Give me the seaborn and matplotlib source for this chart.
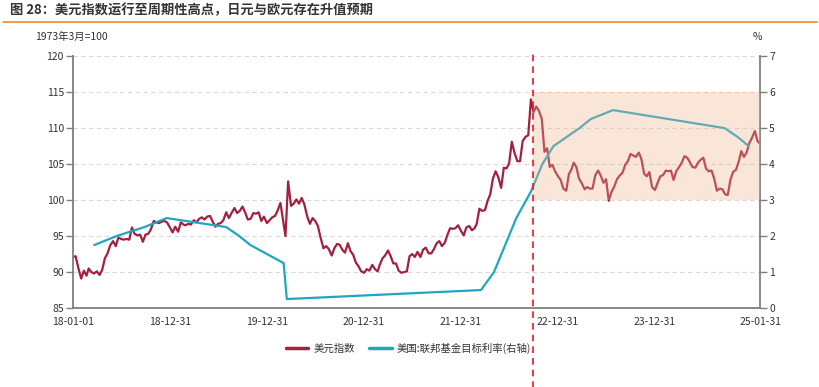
import pandas as pd
import seaborn as sns
import matplotlib.pyplot as plt
from matplotlib.lines import Line2D
from matplotlib.patches import Rectangle

# 美元指数 (1973年3月=100), read on the 1st, 11th and 21st of every month
dxy_2018 = [92.1, 92.2, 90.6, 89.1, 90.2, 89.5, 90.5, 90.0, 89.8, 90.1, 89.6, 90.3,
            91.9, 92.6, 93.7, 94.3, 93.6, 94.8, 94.6, 94.5, 94.6, 94.5, 96.2, 95.3,
            95.1, 95.2, 94.2, 95.2, 95.3, 95.9, 97.1, 96.9, 96.8, 97.0, 97.1, 96.9]
dxy_2019 = [96.2, 95.5, 96.3, 95.6, 96.9, 96.6, 96.5, 96.7, 96.6, 97.2, 96.9, 97.4,
            97.6, 97.3, 97.7, 97.8, 97.0, 96.3, 96.7, 96.8, 97.2, 98.3, 97.5, 98.2,
            98.9, 98.2, 98.5, 99.1, 98.3, 97.3, 97.4, 98.2, 98.1, 98.3, 97.1, 97.7]
dxy_2020 = [96.8, 97.2, 97.6, 97.8, 98.6, 99.6, 97.4, 95.0, 102.6, 99.2, 99.5, 100.1,
            99.5, 100.3, 99.4, 97.7, 96.7, 97.5, 97.1, 96.4, 94.8, 93.3, 93.6, 93.2,
            92.3, 93.3, 93.9, 93.8, 93.1, 92.7, 94.0, 92.9, 92.4, 91.3, 90.8, 90.1]
dxy_2021 = [89.9, 90.4, 90.2, 91.0, 90.4, 90.1, 91.0, 91.9, 92.3, 93.0, 92.2, 91.2,
            91.2, 90.2, 89.9, 90.0, 90.1, 92.2, 92.5, 92.1, 92.8, 92.1, 93.1, 93.4,
            92.6, 92.6, 93.2, 94.0, 94.3, 93.6, 94.1, 95.2, 96.1, 96.0, 96.1, 96.5]
dxy_2022 = [95.7, 95.1, 96.2, 96.4, 95.8, 96.1, 96.7, 98.8, 98.5, 98.6, 99.9, 100.8,
            103.0, 104.0, 103.2, 101.7, 104.5, 104.4, 105.1, 108.1, 106.6, 105.4, 105.4, 108.2,
            108.8, 109.0, 114.0, 112.2, 113.0, 112.4, 111.3, 106.7, 107.2, 104.6, 104.9, 104.0]
dxy_2023 = [103.3, 102.8, 101.6, 101.3, 103.6, 104.3, 105.2, 104.6, 103.0, 102.3, 101.5, 101.8,
            101.6, 101.6, 103.4, 104.1, 103.4, 102.4, 102.9, 99.9, 101.1, 101.9, 102.9, 103.4,
            103.8, 104.9, 105.4, 106.4, 106.2, 106.0, 106.6, 105.7, 103.7, 103.3, 103.9, 101.8]
dxy_2024 = [101.4, 102.4, 103.3, 103.5, 104.1, 104.0, 104.1, 102.8, 104.0, 104.6, 105.2, 106.1,
            105.9, 105.3, 104.6, 104.5, 105.2, 105.6, 105.9, 104.4, 104.0, 104.1, 103.0, 101.3,
            101.6, 101.5, 100.8, 100.7, 102.8, 103.9, 104.2, 105.3, 106.8, 106.0, 106.6, 107.9]
dxy_2025 = [108.7, 109.6, 108.2]
dxy_last = 107.8  # 2025-01-31

# 美国:联邦基金目标利率 (upper bound, %), at each FOMC change
fed_dates = ['2018-03-22', '2018-06-14', '2018-09-27', '2018-12-20', '2019-08-01',
             '2019-09-19', '2019-10-31', '2020-03-04', '2020-03-16', '2022-03-17',
             '2022-05-05', '2022-06-16', '2022-07-28', '2022-09-22', '2022-11-03',
             '2022-12-15', '2023-02-02', '2023-03-23', '2023-05-04', '2023-07-27',
             '2024-09-19', '2024-11-08', '2024-12-19']
fed_rate = [1.75, 2.00, 2.25, 2.50, 2.25, 2.00, 1.75, 1.25, 0.25, 0.50,
            1.00, 1.75, 2.50, 3.25, 4.00, 4.50, 4.75, 5.00, 5.25, 5.50,
            5.00, 4.75, 4.50]

x_ticks = ['2018-01-01', '2018-12-31', '2019-12-31', '2020-12-31', '2021-12-31',
           '2022-12-31', '2023-12-31', '2024-12-31', '2025-01-31']
x_labels = ['18-01-01', '18-12-31', '19-12-31', '20-12-31', '21-12-31',
            '22-12-31', '23-12-31', '', '25-01-31']

peak_date = '2022-09-28'
band_low, band_high = 100, 115

RED = '#A3203F'
TEAL = '#1FA7C2'
AXIS = '#7F7F7F'
TXT = '#333333'

# build tables
rows = []
for year, vals in zip(range(2018, 2026), [dxy_2018, dxy_2019, dxy_2020, dxy_2021,
                                          dxy_2022, dxy_2023, dxy_2024, dxy_2025]):
    for i, v in enumerate(vals):
        rows.append((pd.Timestamp(year, i // 3 + 1, [1, 11, 21][i % 3]), v))
rows.append((pd.Timestamp('2025-01-31'), dxy_last))
dxy = pd.DataFrame(rows, columns=['date', 'value'])
fed = pd.DataFrame({'date': pd.to_datetime(fed_dates), 'rate': fed_rate})

sns.set_theme(style='white')
plt.rcParams['font.family'] = ['Noto Sans CJK SC', 'DejaVu Sans']
plt.rcParams['axes.unicode_minus'] = False

fig = plt.figure(figsize=(8.2, 3.87), dpi=100)
ax = fig.add_axes([0.089, 0.204, 0.838, 0.651])

sns.lineplot(data=dxy, x='date', y='value', ax=ax, color=RED, lw=1.6)
ax2 = ax.twinx()
sns.lineplot(data=fed, x='date', y='rate', ax=ax2, color=TEAL, lw=1.6)

ax.set_xlim(pd.Timestamp('2018-01-01'), pd.Timestamp('2025-01-31'))
ax.set_ylim(85, 120)
ax2.set_ylim(0, 7)
ax.set_yticks(range(85, 121, 5))
ax2.set_yticks(range(0, 8))
ax.set_xticks(pd.to_datetime(x_ticks))
ax.set_xticklabels(x_labels)
ax.set_xlabel('')
ax.set_ylabel('')
ax2.set_ylabel('')

# dashed grid
for y in range(90, 121, 5):
    ax.axhline(y, color='#D9D9D9', lw=0.8, ls=(0, (4, 3)), zorder=0)

for a in (ax, ax2):
    for s in a.spines.values():
        s.set_visible(False)
    a.tick_params(colors=AXIS, labelcolor=TXT, labelsize=7.5, length=5, width=1, pad=1.5)
ax.spines['left'].set_visible(True)
ax.spines['bottom'].set_visible(True)
ax2.spines['right'].set_visible(True)
for s in (ax.spines['left'], ax.spines['bottom'], ax2.spines['right']):
    s.set_color(AXIS)
    s.set_linewidth(1.3)

# shaded band after the peak
x0 = pd.Timestamp(peak_date)
x1 = pd.Timestamp('2025-01-31')
ax2.add_patch(Rectangle((x0, (band_low - 85) / 5), x1 - x0, (band_high - band_low) / 5,
                        facecolor='#F2B38E', edgecolor='none', alpha=0.33, zorder=4))

ax2.axvline(x0, ymin=-0.32, ymax=1.01, clip_on=False, color='#F0141E',
            lw=1.2, ls=(0, (4, 3)), zorder=6)

fig.text(0.012, 0.973, '图 28：美元指数运行至周期性高点，日元与欧元存在升值预期',
         fontsize=9.5, fontweight='bold', color=TXT, va='center', ha='left')
fig.add_artist(Line2D([0.004, 0.996], [0.942, 0.942], color='#F08A24', lw=1.2))
fig.text(0.043, 0.904, '1973年3月=100', fontsize=7.5, color=TXT, va='center', ha='left')
fig.text(0.924, 0.904, '%', fontsize=7.5, color=TXT, va='center', ha='center')

handles = [Line2D([], [], color=RED, lw=2.5), Line2D([], [], color=TEAL, lw=2.5)]
fig.legend(handles, ['美元指数', '美国:联邦基金目标利率(右轴)'], loc='center',
           bbox_to_anchor=(0.498, 0.10), ncol=2, frameon=False, fontsize=7.5,
           handlelength=2.2, handletextpad=0.5, columnspacing=1.3, labelcolor=TXT)

fig.savefig('out.png', dpi=100)
